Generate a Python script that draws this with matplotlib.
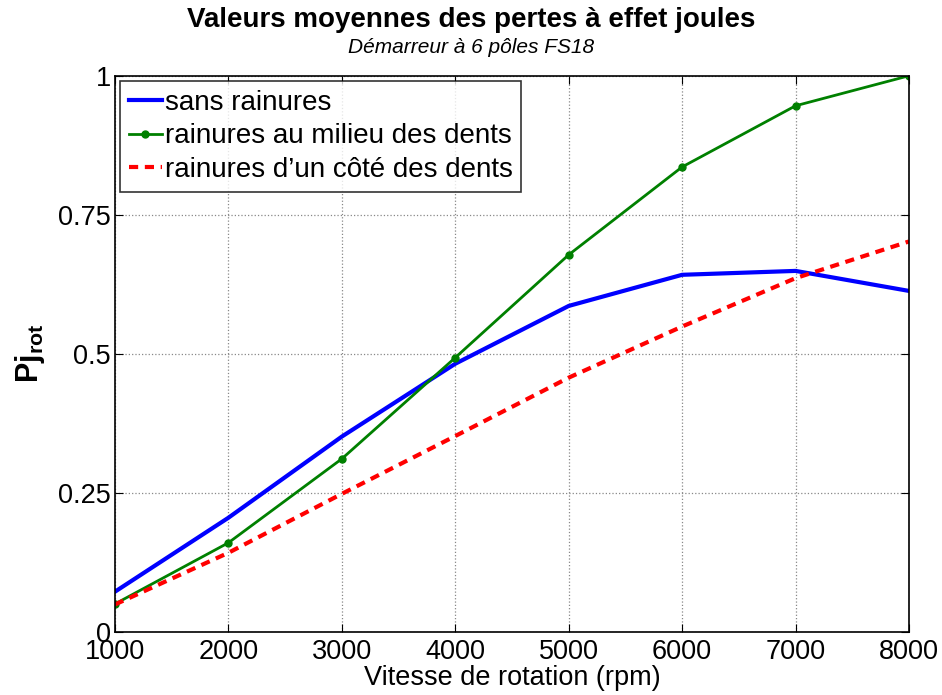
import numpy as np
import matplotlib.pyplot as plt

plt.rcParams['font.family'] = ['Liberation Sans', 'DejaVu Sans']
plt.rcParams['mathtext.fontset'] = 'custom'
plt.rcParams['mathtext.rm'] = 'Liberation Sans'
plt.rcParams['mathtext.bf'] = 'Liberation Sans:bold'

# Rotor Joule losses (normalised) vs speed
vitesse = [1000, 2000, 3000, 4000, 5000, 6000, 7000, 8000]
sans_rainures = [0.072, 0.205, 0.351, 0.482, 0.586, 0.642, 0.649, 0.613]
milieu_dents = [0.050, 0.160, 0.311, 0.493, 0.678, 0.836, 0.946, 1.0]
cote_dents = [0.049, 0.142, 0.248, 0.352, 0.457, 0.549, 0.636, 0.702]

fig = plt.figure(figsize=(9.42, 6.95), dpi=100)
ax = fig.add_axes([0.122, 0.091, 0.843, 0.800])

ax.plot(vitesse, sans_rainures, color='#0000ff', lw=3, label='sans rainures')
ax.plot(vitesse, milieu_dents, color='#008000', lw=2, marker='o', ms=5,
        label='rainures au milieu des dents')
ax.plot(vitesse, cote_dents, color='#ff0000', lw=3, ls=(0, (2.2, 1.6)),
        label='rainures d\u2019un côté des dents')

ax.set_xlim(1000, 8000)
ax.set_ylim(0, 1)
ax.set_xticks(vitesse)
ax.set_yticks([0, 0.25, 0.5, 0.75, 1])
ax.set_yticklabels(['0', '0.25', '0.5', '0.75', '1'])
ax.tick_params(direction='in', labelsize=19.5, length=6, top=True, right=True)
ax.tick_params(axis='x', pad=5)
ax.tick_params(axis='y', pad=3)
for s in ax.spines.values():
    s.set_linewidth(1.2)
ax.grid(True, ls=':', color='#888888', lw=0.9)
ax.set_axisbelow(True)

ax.set_xlabel('Vitesse de rotation (rpm)', fontsize=19.5, labelpad=0)
ax.set_ylabel(r'$\mathbf{Pj_{rot}}$', fontsize=22, labelpad=8)

fig.text(0.5, 1 - 27 / 695, 'Valeurs moyennes des pertes à effet joules',
         ha='center', va='baseline', fontsize=20, fontweight='bold')
fig.text(0.5, 1 - 53 / 695, 'Démarreur à 6 pôles FS18', ha='center',
         va='baseline', fontsize=15, style='italic')

leg = ax.legend(loc='upper left', fontsize=20, frameon=True, fancybox=False,
                edgecolor='black', handlelength=1.2, handletextpad=0.1,
                borderpad=0.3, labelspacing=0.28, borderaxespad=0.2)
leg.get_frame().set_linewidth(1.2)

fig.savefig('out.png', dpi=100)
